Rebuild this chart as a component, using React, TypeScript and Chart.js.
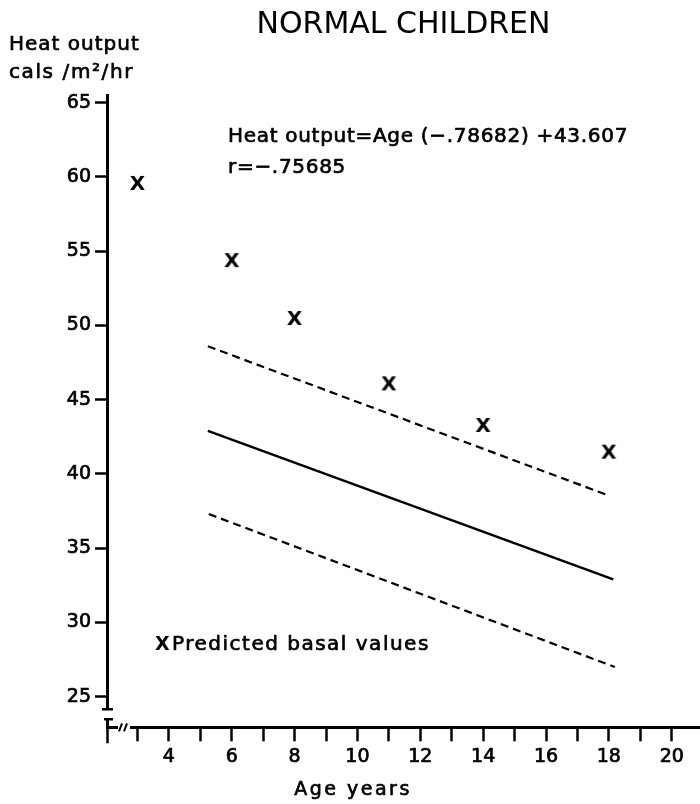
import { useEffect, useRef } from "react";
import { Chart, registerables } from "chart.js";

Chart.register(...registerables);

const chartTitle = "NORMAL CHILDREN";
const yAxisTitle = ["Heat output", "cals /m²/hr"];
const xAxisTitle = "Age years";
const equationLines = ["Heat output=Age (−.78682) +43.607", "r=−.75685"];
const legendMarker = "X";
const legendText = "Predicted basal values";

const yTickValues = [25, 30, 35, 40, 45, 50, 55, 60, 65];
const xTickValues = [3, 4, 5, 6, 7, 8, 9, 10, 11, 12, 13, 14, 15, 16, 17, 18, 19, 20];
const xLabeledValues = [4, 6, 8, 10, 12, 14, 16, 18, 20];

const predictedAges = [3, 6, 8, 11, 14, 18];
const predictedValues = [59.5, 54.3, 50.4, 46.0, 43.2, 41.4];

const regressionAges = [5.24, 18.14];
const regressionValues = [42.9, 32.9];
const upperAges = [5.24, 17.93];
const upperValues = [48.6, 38.6];
const lowerAges = [5.27, 18.19];
const lowerValues = [37.3, 27.0];

const FONT = "'DejaVu Sans', sans-serif";
const STROKE = 0.7;

function toPoints(xs: number[], ys: number[]) {
  return xs.map((x, i) => ({ x, y: ys[i] }));
}

function makeXGlyph(): HTMLCanvasElement {
  const c = document.createElement("canvas");
  c.width = 17;
  c.height = 19;
  const ctx = c.getContext("2d")!;
  ctx.fillStyle = "#000";
  ctx.font = `bold 20px ${FONT}`;
  ctx.textAlign = "center";
  ctx.textBaseline = "middle";
  ctx.fillText("X", 8.5, 9.5);
  return c;
}

function text(ctx: CanvasRenderingContext2D, s: string, x: number, y: number) {
  ctx.fillText(s, x, y);
  ctx.strokeText(s, x, y);
}

const decorPlugin = {
  id: "decor",
  afterDraw(chart: any) {
    const ctx: CanvasRenderingContext2D = chart.ctx;
    const area = chart.chartArea;
    ctx.save();
    ctx.fillStyle = "#000";
    ctx.strokeStyle = "#000";
    ctx.lineWidth = STROKE;
    ctx.lineJoin = "round";

    // y-axis title (horizontal, top-left)
    ctx.font = `20px ${FONT}`;
    ctx.textAlign = "left";
    ctx.textBaseline = "middle";
    (ctx as any).letterSpacing = "1px";
    text(ctx, yAxisTitle[0], 9, 45);
    (ctx as any).letterSpacing = "1.6px";
    text(ctx, yAxisTitle[1], 9, 73);

    // equation
    (ctx as any).letterSpacing = "0.7px";
    text(ctx, equationLines[0], 228, 137);
    text(ctx, equationLines[1], 228, 168);

    // legend note
    ctx.font = `bold 19px ${FONT}`;
    (ctx as any).letterSpacing = "0px";
    ctx.fillText(legendMarker, 155, 645);
    ctx.font = `20px ${FONT}`;
    (ctx as any).letterSpacing = "1.5px";
    text(ctx, legendText, 172, 645);

    // x-axis title
    ctx.font = `19px ${FONT}`;
    (ctx as any).letterSpacing = "2.5px";
    ctx.textAlign = "center";
    text(ctx, xAxisTitle, 353, 790);
    (ctx as any).letterSpacing = "0px";

    // axis breaks
    const ax = area.left;
    const by = area.bottom;
    ctx.fillStyle = "#fff";
    ctx.fillRect(ax - 4, by - 18, 9, 9);
    ctx.fillRect(ax + 11, by - 5, 12, 9);
    ctx.lineWidth = 2.5;
    ctx.beginPath();
    ctx.moveTo(ax - 5, by - 18);
    ctx.lineTo(ax + 6, by - 18);
    ctx.moveTo(ax - 3, by - 8);
    ctx.lineTo(ax + 6, by - 8);
    ctx.moveTo(ax + 0.5, by - 8);
    ctx.lineTo(ax + 0.5, by + 16);
    ctx.stroke();
    ctx.lineWidth = 2;
    ctx.beginPath();
    ctx.moveTo(ax + 12, by + 4);
    ctx.lineTo(ax + 15, by - 4);
    ctx.moveTo(ax + 17, by + 4);
    ctx.lineTo(ax + 20, by - 4);
    ctx.stroke();
    ctx.restore();
  },
};

export default function App() {
  const ref = useRef<HTMLCanvasElement | null>(null);

  useEffect(() => {
    const canvas = ref.current;
    if (!canvas) return;
    const xGlyph = makeXGlyph();
    const chart = new Chart(canvas, {
      type: "scatter",
      data: {
        datasets: [
          {
            label: "Predicted basal values",
            data: toPoints(predictedAges, predictedValues),
            pointStyle: xGlyph as any,
            pointRadius: 8,
            showLine: false,
          },
          {
            label: "Regression",
            data: toPoints(regressionAges, regressionValues),
            showLine: true,
            borderColor: "#000",
            borderWidth: 2.5,
            pointRadius: 0,
          },
          {
            label: "Upper",
            data: toPoints(upperAges, upperValues),
            showLine: true,
            borderColor: "#000",
            borderWidth: 2.2,
            borderDash: [8, 5],
            pointRadius: 0,
          },
          {
            label: "Lower",
            data: toPoints(lowerAges, lowerValues),
            showLine: true,
            borderColor: "#000",
            borderWidth: 2.2,
            borderDash: [8, 5],
            pointRadius: 0,
          },
        ],
      },
      options: {
        animation: false,
        responsive: false,
        maintainAspectRatio: false,
        devicePixelRatio: 1,
        layout: { padding: 0, autoPadding: false },
        plugins: {
          legend: { display: false },
          tooltip: { enabled: false },
          title: {
            display: true,
            text: chartTitle,
            fullSize: false,
            color: "#000",
            font: { family: FONT, size: 30, weight: "normal" as any, lineHeight: 1.2 },
            padding: { top: 7, bottom: 52.3 },
          },
        },
        scales: {
          x: {
            type: "linear",
            min: 2.03,
            max: 20.9,
            afterBuildTicks: (scale: any) => {
              scale.ticks = xTickValues.map((v) => ({ value: v }));
            },
            afterFit: (scale: any) => {
              scale.height = 76.7;
              scale.paddingLeft = 0;
              scale.paddingRight = 0;
            },
            ticks: {
              autoSkip: false,
              maxRotation: 0,
              color: "#000",
              padding: 4,
              font: { family: FONT, size: 19 },
              textStrokeColor: "#000",
              textStrokeWidth: STROKE,
              callback: (v: any) => (xLabeledValues.includes(Number(v)) ? String(v) : ""),
            },
            grid: {
              display: true,
              drawOnChartArea: false,
              drawTicks: true,
              tickLength: 14,
              tickColor: "#000",
              tickWidth: 2.5,
              color: "#000",
            },
            border: { display: true, color: "#000", width: 3 },
          },
          y: {
            type: "linear",
            min: 22.94,
            max: 65.5,
            afterBuildTicks: (scale: any) => {
              scale.ticks = yTickValues.map((v) => ({ value: v }));
            },
            afterFit: (scale: any) => {
              scale.width = 107;
              scale.paddingTop = 0;
              scale.paddingBottom = 0;
            },
            ticks: {
              color: "#000",
              padding: 4,
              font: { family: FONT, size: 19 },
              textStrokeColor: "#000",
              textStrokeWidth: STROKE,
              callback: (v: any) => String(v),
            },
            grid: {
              display: true,
              drawOnChartArea: false,
              drawTicks: true,
              tickLength: 12,
              tickColor: "#000",
              tickWidth: 2.5,
              color: "#000",
            },
            border: { display: true, color: "#000", width: 3 },
          },
        },
      },
      plugins: [decorPlugin],
    });
    return () => chart.destroy();
  }, []);

  return (
    <div style={{ position: "absolute", left: 0, top: 0, width: 700, height: 804, background: "#fff" }}>
      <canvas ref={ref} width={700} height={804} style={{ display: "block", width: 700, height: 804 }} />
    </div>
  );
}
